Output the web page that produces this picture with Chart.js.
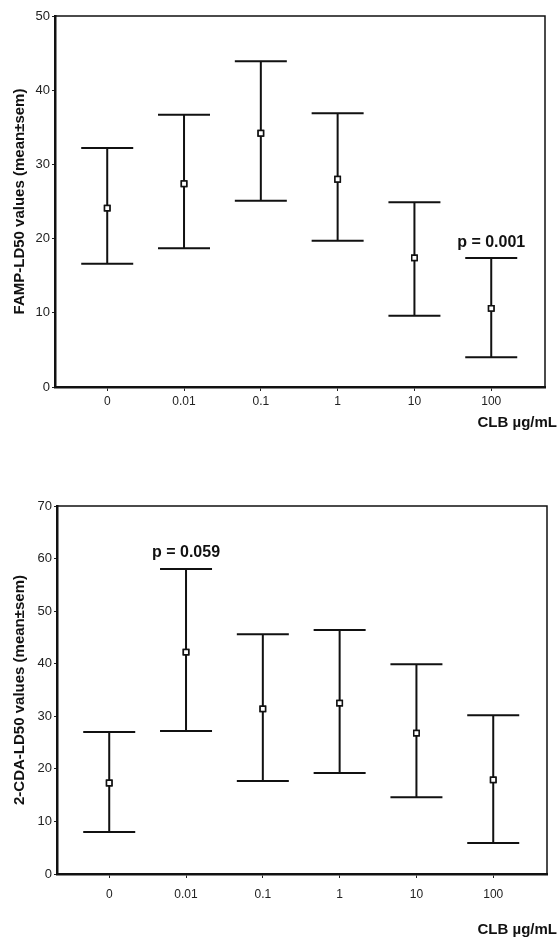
<!DOCTYPE html>
<html>
<head>
<meta charset="utf-8">
<script src="https://cdn.jsdelivr.net/npm/chart.js@4.4.1/dist/chart.umd.min.js"></script>
<style>
    html, body { margin: 0; padding: 0; background: #fff; }
    .painel { position: relative; width: 560px; height: 470px; }
</style>
</head>
<body>
<div class="painel"><canvas id="chart-famp" width="560" height="470"></canvas></div>
<div class="painel"><canvas id="chart-cda" width="560" height="470"></canvas></div>
<script>
// CLB concentrations (x categories)
const doses = ['0', '0.01', '0.1', '1', '10', '100'];

// FAMP-LD50, mean and mean±sem
const fampMean  = [24.1, 27.4, 34.2, 28.0, 17.4, 10.6];
const fampUpper = [32.2, 36.7, 43.9, 36.9, 24.9, 17.4];
const fampLower = [16.6, 18.7, 25.1, 19.7, 9.6, 4.0];

// 2-CDA-LD50, mean and mean±sem
const cdaMean  = [17.3, 42.2, 31.4, 32.5, 26.8, 17.9];
const cdaUpper = [27.0, 58.0, 45.6, 46.4, 39.9, 30.2];
const cdaLower = [8.0, 27.2, 17.7, 19.2, 14.6, 5.9];

const fampTicks = [0, 10, 20, 30, 40, 50];
const cdaTicks = [0, 10, 20, 30, 40, 50, 60, 70];

const fonteTick = "'Liberation Sans Narrow', 'Liberation Sans', Arial, sans-serif";
const fonteBold = "'Liberation Sans', Arial, sans-serif";

/**
 * Barras de erro + moldura + rótulos (p, CLB)
 */
const errorBarsPlugin = {
    id: 'errorBars',
    afterDatasetsDraw(chart, args, opts) {
        const ctx = chart.ctx;
        const xs = chart.scales.x, ys = chart.scales.y;
        const area = chart.chartArea;
        ctx.save();

        // moldura superior/direita
        ctx.strokeStyle = '#111';
        ctx.lineWidth = 1.5;
        ctx.beginPath();
        ctx.moveTo(area.left, area.top);
        ctx.lineTo(area.right, area.top);
        ctx.lineTo(area.right, area.bottom);
        ctx.stroke();

        ctx.lineWidth = 2;
        opts.upper.forEach((up, i) => {
            const x = xs.getPixelForValue(i);
            const yUp = ys.getPixelForValue(up);
            const yLo = ys.getPixelForValue(opts.lower[i]);
            ctx.beginPath();
            ctx.moveTo(x, yUp); ctx.lineTo(x, yLo);
            ctx.moveTo(x - opts.cap, yUp); ctx.lineTo(x + opts.cap, yUp);
            ctx.moveTo(x - opts.cap, yLo); ctx.lineTo(x + opts.cap, yLo);
            ctx.stroke();
        });

        // rótulo p
        ctx.fillStyle = '#111';
        ctx.font = 'bold 16px ' + fonteBold;
        ctx.textAlign = 'center';
        ctx.textBaseline = 'middle';
        ctx.fillText(opts.pText, xs.getPixelForValue(opts.pIndex), ys.getPixelForValue(opts.pValue));

        // CLB µg/mL
        ctx.font = 'bold 15px ' + fonteBold;
        ctx.textAlign = 'right';
        ctx.fillText('CLB µg/mL', chart.width - 3, area.bottom + opts.unitOffset);
        ctx.restore();
    },
    afterDraw(chart) {
        // redesenha os marcadores sobre as barras
        const meta = chart.getDatasetMeta(0);
        chart.ctx.save();
        meta.data.forEach(p => p.draw(chart.ctx, chart.chartArea));
        chart.ctx.restore();
    }
};

function criarGrafico(id, cfg) {
    const ctx = document.getElementById(id);
    return new Chart(ctx, {
        type: 'scatter',
        data: {
            datasets: [{
                data: cfg.mean.map((v, i) => ({ x: i, y: v })),
                pointStyle: 'rect',
                pointRadius: 3.8,
                pointBorderWidth: 1.5,
                borderColor: '#111',
                backgroundColor: '#fff'
            }]
        },
        options: {
            responsive: false,
            animation: false,
            layout: { padding: { top: cfg.padTop, right: cfg.padRight, left: 0, bottom: 0 } },
            plugins: {
                legend: { display: false },
                tooltip: { enabled: false },
                errorBars: {
                    upper: cfg.upper, lower: cfg.lower, cap: 26,
                    pText: cfg.pText, pIndex: cfg.pIndex, pValue: cfg.pValue,
                    unitOffset: cfg.unitOffset + 2
                }
            },
            scales: {
                x: {
                    type: 'linear',
                    min: -0.68, max: 5.7,
                    afterBuildTicks: s => { s.ticks = doses.map((d, i) => ({ value: i })); },
                    afterFit: s => { s.height = cfg.xHeight; },
                    grid: { display: true, drawOnChartArea: false, tickLength: 4, color: '#222', lineWidth: 1 },
                    border: { color: '#111', width: 2.5 },
                    ticks: {
                        callback: v => doses[v],
                        color: '#222',
                        padding: cfg.xPad,
                        maxRotation: 0,
                        font: { family: fonteTick, size: 12 }
                    }
                },
                y: {
                    min: 0, max: cfg.max,
                    afterBuildTicks: s => { s.ticks = cfg.ticks.map(v => ({ value: v })); },
                    afterFit: s => { s.width = cfg.yWidth; },
                    grid: { display: true, drawOnChartArea: false, tickLength: 3, color: '#222', lineWidth: 1 },
                    border: { color: '#111', width: 2.5 },
                    title: {
                        display: true,
                        text: cfg.yTitle,
                        color: '#111',
                        padding: { top: 11, bottom: 0 },
                        font: { family: fonteBold, size: 15, weight: 'bold' }
                    },
                    ticks: {
                        color: '#222',
                        padding: 2,
                        font: { family: fonteTick, size: 13 }
                    }
                }
            }
        },
        plugins: [errorBarsPlugin]
    });
}

criarGrafico('chart-famp', {
    mean: fampMean, upper: fampUpper, lower: fampLower,
    max: 50, ticks: fampTicks,
    yTitle: 'FAMP-LD50 values (mean±sem)',
    pText: 'p = 0.001', pIndex: 5, pValue: 19.4,
    padTop: 16, padRight: 15, yWidth: 55, xHeight: 83, xPad: 3, unitOffset: 34
});

criarGrafico('chart-cda', {
    mean: cdaMean, upper: cdaUpper, lower: cdaLower,
    max: 70, ticks: cdaTicks,
    yTitle: '2-CDA-LD50 values (mean±sem)',
    pText: 'p = 0.059', pIndex: 1, pValue: 61.2,
    padTop: 36, padRight: 13, yWidth: 57, xHeight: 66, xPad: 9, unitOffset: 54
});
</script>
</body>
</html>
